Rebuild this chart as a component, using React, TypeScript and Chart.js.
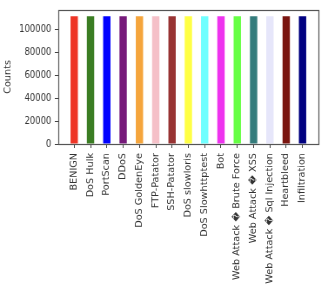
import React, { useEffect, useRef } from "react";
import { Chart, registerables } from "chart.js";

Chart.register(...registerables);

const categories = [
  "BENIGN",
  "DoS Hulk",
  "PortScan",
  "DDoS",
  "DoS GoldenEye",
  "FTP-Patator",
  "SSH-Patator",
  "DoS slowloris",
  "DoS Slowhttptest",
  "Bot",
  "Web Attack \uFFFD Brute Force",
  "Web Attack \uFFFD XSS",
  "Web Attack \uFFFD Sql Injection",
  "Heartbleed",
  "Infiltration",
];

const counts = [
  111800, 111800, 111800, 111800, 111800, 111800, 111800, 111800, 111800,
  111800, 111800, 111800, 111800, 111800, 111800,
];

const barColors = [
  "#ee3526",
  "#3a7d23",
  "#0000ff",
  "#761a7a",
  "#f5a53c",
  "#f5c0c8",
  "#983333",
  "#ffff44",
  "#70ffff",
  "#ee33ee",
  "#66ff44",
  "#347c7c",
  "#e6e6fa",
  "#7a1510",
  "#000080",
];

const yTicks = [0, 20000, 40000, 60000, 80000, 100000];
const yMax = 117500;

const FONT = "'DejaVu Sans', sans-serif";
const SX = 0.87;
const W = Math.round(323 / SX);
const H = 297;

export default function App() {
  const ref = useRef<HTMLCanvasElement | null>(null);

  useEffect(() => {
    document.body.style.margin = "0";
    const canvas = ref.current;
    if (!canvas) return;
    const frame = {
      id: "frame",
      afterDraw(chart: any) {
        const { ctx, chartArea } = chart;
        ctx.save();
        ctx.strokeStyle = "#555";
        ctx.lineWidth = 1.2;
        ctx.strokeRect(
          Math.round(chartArea.left) + 0.5,
          Math.round(chartArea.top) + 0.5,
          Math.round(chartArea.right - chartArea.left),
          Math.round(chartArea.bottom - chartArea.top)
        );
        ctx.restore();
      },
    };
    const chart = new Chart(canvas, {
      type: "bar",
      data: {
        datasets: [
          {
            data: counts.map((v, i) => ({ x: i, y: v })),
            backgroundColor: barColors,
            borderWidth: 0,
            barPercentage: 0.45,
            categoryPercentage: 1,
          },
        ],
      },
      options: {
        animation: false,
        responsive: false,
        layout: { padding: { top: 4, right: 5, left: 0, bottom: 0 } },
        plugins: { legend: { display: false }, tooltip: { enabled: false } },
        scales: {
          x: {
            type: "linear",
            offset: false,
            min: -0.975,
            max: 14.975,
            grid: {
              display: true,
              offset: false,
              drawOnChartArea: false,
              drawTicks: true,
              tickLength: 4,
              color: "#444",
            },
            border: { display: false },
            afterFit: (scale: any) => {
              scale.height = H - 144;
            },
            ticks: {
              stepSize: 1,
              includeBounds: false,
              autoSkip: false,
              maxRotation: 90,
              minRotation: 90,
              padding: 5,
              color: "#333",
              font: { family: FONT, size: 9.7 },
              callback: (v: any) => categories[Math.round(Number(v))] ?? "",
            },
          },
          y: {
            min: 0,
            max: yMax,
            grid: {
              display: true,
              offset: false,
              drawOnChartArea: false,
              drawTicks: true,
              tickLength: 4,
              color: "#444",
            },
            border: { display: false },
            afterBuildTicks: (scale: any) => {
              scale.ticks = yTicks.map((v) => ({ value: v }));
            },
            afterFit: (scale: any) => {
              scale.width = 67;
            },
            title: {
              display: true,
              text: "Counts",
              color: "#333",
              font: { family: FONT, size: 9.7 },
              padding: { top: 4, bottom: 0 },
            },
            ticks: {
              padding: 4,
              color: "#333",
              font: { family: FONT, size: 9.7 },
              callback: (v: any) => String(v),
            },
          },
        },
      },
      plugins: [frame],
    } as any);
    return () => chart.destroy();
  }, []);

  return (
    <div style={{ width: 323, height: H, overflow: "hidden", position: "relative" }}>
      <div
        style={{
          width: W,
          height: H,
          transform: `scaleX(${SX})`,
          transformOrigin: "0 0",
          position: "absolute",
          left: 0,
          top: 0,
        }}
      >
        <canvas ref={ref} width={W} height={H} />
      </div>
    </div>
  );
}
